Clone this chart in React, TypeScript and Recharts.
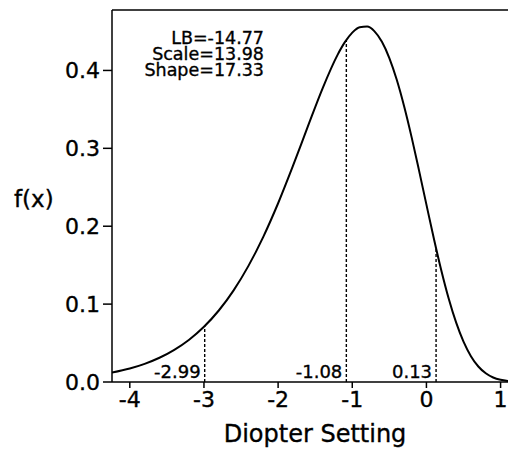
import React from 'react';
import {
  LineChart,
  Line,
  XAxis,
  YAxis,
  ReferenceLine,
  Label,
} from 'recharts';

// density curve (Diopter Setting vs f(x))
const X_VALUES = [
  -4.24, -4.0, -3.8, -3.6, -3.4, -3.2, -3.0, -2.8, -2.6, -2.4, -2.2, -2.0, -1.8, -1.6, -1.4,
  -1.2, -1.1, -1.0, -0.9, -0.8, -0.7, -0.6, -0.5, -0.4, -0.3, -0.2, -0.1, 0.0, 0.1, 0.2, 0.3,
  0.4, 0.5, 0.6, 0.7, 0.8, 0.9, 1.0, 1.1,
];
const F_VALUES = [
  0.0121, 0.0173, 0.0233, 0.0311, 0.0413, 0.0543, 0.0709, 0.0918, 0.1177, 0.1491, 0.1864,
  0.2295, 0.2774, 0.3278, 0.3771, 0.4197, 0.4363, 0.4486, 0.4556, 0.4563, 0.4502, 0.4368,
  0.4159, 0.388, 0.3537, 0.3144, 0.2717, 0.2277, 0.1843, 0.1435, 0.1072, 0.0765, 0.0518,
  0.0332, 0.0199, 0.0112, 0.0058, 0.0028, 0.0012,
];

// percentile markers (x, f(x), label)
const MARK_X = [-2.99, -1.08, 0.13];
const MARK_F = [0.0719, 0.4391, 0.1717];
const MARK_LABELS = ['-2.99', '-1.08', '0.13'];

const X_TICKS = [-4, -3, -2, -1, 0, 1];
const Y_TICKS = [0, 0.1, 0.2, 0.3, 0.4];
const X_DOMAIN: [number, number] = [-4.24, 1.1];
const Y_MAX = 0.4776;

const PARAM_LINES = ['LB=-14.77', 'Scale=13.98', 'Shape=17.33'];

const FONT = '"DejaVu Sans", "Liberation Sans", Arial, sans-serif';
// the scanned original has slightly heavy glyphs
const INK = { fill: '#000', stroke: '#000', strokeWidth: 0.35 };

const data = X_VALUES.map((x, i) => ({ x, y: F_VALUES[i] }));

export default function App() {
  return (
    <div style={{ position: 'absolute', left: 0, top: 0, width: 509, height: 450, background: '#fff' }}>
      <LineChart
        width={509}
        height={450}
        data={data}
        margin={{ top: 10, right: 1, bottom: 0, left: 0 }}
      >
        <XAxis
          dataKey="x"
          type="number"
          domain={X_DOMAIN}
          ticks={X_TICKS}
          allowDataOverflow
          height={68}
          stroke="#000"
          strokeWidth={1.5}
          tickSize={6}
          tickMargin={3}
          tick={{ ...INK, fontSize: 22, fontFamily: FONT }}
          tickFormatter={(v: number) => String(v)}
        >
          <Label
            value="Diopter Setting"
            position="insideBottom"
            offset={8}
            dx={5}
            {...INK}
            fontSize={24}
            fontFamily={FONT}
          />
        </XAxis>
        <YAxis
          type="number"
          domain={[0, Y_MAX]}
          ticks={Y_TICKS}
          allowDataOverflow
          width={112}
          stroke="#000"
          strokeWidth={1.5}
          tickSize={9}
          tickMargin={3}
          tick={{ ...INK, fontSize: 22, fontFamily: FONT }}
          tickFormatter={(v: number) => v.toFixed(1)}
        >
          <Label
            value="f(x)"
            position="insideLeft"
            offset={14}
            dy={3}
            {...INK}
            fontSize={23}
            fontFamily={FONT}
          />
        </YAxis>
        <ReferenceLine y={Y_MAX} stroke="#000" strokeWidth={1.5} />
        {MARK_X.map((mx, i) => (
          <ReferenceLine
            key={mx}
            segment={[
              { x: mx, y: 0 },
              { x: mx, y: MARK_F[i] },
            ]}
            stroke="#000"
            strokeWidth={1.4}
            strokeDasharray="3 2"
            label={{
              value: MARK_LABELS[i],
              position: 'insideBottomRight',
              offset: 4,
              ...INK,
              fontSize: 18,
              fontFamily: FONT,
            }}
          />
        ))}
        <Line
          type="monotone"
          dataKey="y"
          stroke="#000"
          strokeWidth={2}
          dot={false}
          isAnimationActive={false}
        />
      </LineChart>
      <div
        style={{
          position: 'absolute',
          left: 100,
          top: 30,
          width: 164,
          textAlign: 'right',
          fontFamily: FONT,
          fontSize: 17.5,
          lineHeight: '16px',
          color: '#000',
          WebkitTextStroke: '0.35px #000',
        }}
      >
        {PARAM_LINES.map((t) => (
          <div key={t}>{t}</div>
        ))}
      </div>
    </div>
  );
}
